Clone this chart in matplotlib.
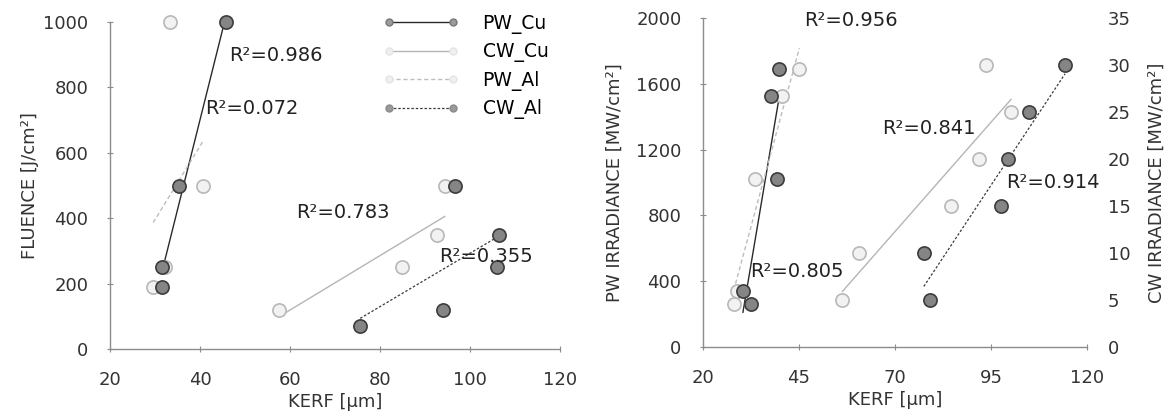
import numpy as np
import matplotlib
matplotlib.use("Agg")
import matplotlib.pyplot as plt
from matplotlib.lines import Line2D

# left panel: fluence vs kerf
pw_cu_kerf = [45.7, 35.4, 31.6, 31.6]
pw_cu_fluence = [1000, 500, 250, 190]
pw_al_kerf = [33.4, 40.6, 32.3, 29.6]
pw_al_fluence = [1000, 500, 250, 190]
cw_cu_kerf = [57.5, 84.8, 92.6, 94.4]
cw_cu_fluence = [120, 250, 350, 500]
cw_al_kerf = [75.6, 94.0, 106.0, 106.5, 96.6]
cw_al_fluence = [70, 120, 250, 350, 500]
r2_left = ["0.986", "0.072", "0.783", "0.355"]

# right panel: irradiance vs kerf (PW on left axis, CW on right axis)
pw_cu_kerf_r = [30.4, 32.4, 39.2, 37.6, 39.7]
pw_cu_irr = [340, 261, 1021, 1526, 1690]
pw_al_kerf_r = [28.0, 28.9, 33.5, 40.7, 45.1]
pw_al_irr = [261, 340, 1021, 1526, 1690]
cw_cu_kerf_r = [56.3, 60.7, 84.5, 91.8, 100.2, 93.8]
cw_cu_irr = [5, 10, 15, 20, 25, 30]
cw_al_kerf_r = [79.0, 77.5, 97.7, 99.5, 104.9, 114.3]
cw_al_irr = [5, 10, 15, 20, 25, 30]
r2_right = ["0.956", "0.805", "0.841", "0.914"]

series_names = ["PW_Cu", "CW_Cu", "PW_Al", "CW_Al"]

DARK = dict(marker="o", ms=9.5, mfc="#858585", mec="#3c3c3c", mew=1.2, ls="none", zorder=4, clip_on=False)
LIGHT = dict(marker="o", ms=9.5, mfc="#f2f2f2", mec="#b8b8b8", mew=1.2, ls="none", zorder=3, clip_on=False)
line_styles = {
    "PW_Cu": dict(color="#2a2a2a", lw=1.0, ls="-"),
    "CW_Cu": dict(color="#b5b5b5", lw=1.0, ls="-"),
    "PW_Al": dict(color="#bdbdbd", lw=1.0, ls=(0, (3, 2))),
    "CW_Al": dict(color="#3a3a3a", lw=0.9, ls=(0, (2, 1.5))),
}

FONT = "DejaVu Sans"
TXT = "#333333"


def trend(ax, x, y, style):
    # excel-like linear trendline from min to max x
    k, b = np.polyfit(x, y, 1)
    xs = np.array([min(x), max(x)])
    ax.plot(xs, k * xs + b, zorder=2, **style)


def style_axes(ax):
    for s in ["top", "right"]:
        ax.spines[s].set_visible(False)
    for s in ["left", "bottom"]:
        ax.spines[s].set_color("#8c8c8c")
        ax.spines[s].set_linewidth(1.0)
    ax.tick_params(direction="inout", length=5, color="#8c8c8c", labelsize=13,
                   labelcolor=TXT)
    ax.tick_params(axis="x", pad=13)
    ax.tick_params(axis="y", pad=13)


plt.rcParams["font.family"] = FONT
fig = plt.figure(figsize=(11.71, 4.18), dpi=100)

# ---------- left panel
ax1 = fig.add_axes([110 / 1171, 69 / 418, 450 / 1171, 327 / 418])
trend(ax1, pw_cu_kerf, pw_cu_fluence, line_styles["PW_Cu"])
trend(ax1, cw_cu_kerf, cw_cu_fluence, line_styles["CW_Cu"])
trend(ax1, pw_al_kerf, pw_al_fluence, line_styles["PW_Al"])
trend(ax1, cw_al_kerf, cw_al_fluence, line_styles["CW_Al"])
ax1.plot(pw_al_kerf, pw_al_fluence, **LIGHT)
ax1.plot(cw_cu_kerf, cw_cu_fluence, **LIGHT)
ax1.plot(pw_cu_kerf, pw_cu_fluence, **DARK)
ax1.plot(cw_al_kerf, cw_al_fluence, **DARK)
ax1.set_xlim(20, 120)
ax1.set_ylim(0, 1000)
ax1.set_xticks(range(20, 121, 20))
ax1.set_yticks(range(0, 1001, 200))
style_axes(ax1)
ax1.set_xlabel("KERF [µm]", fontsize=13, color=TXT, labelpad=3)
ax1.set_ylabel("FLUENCE [J/cm²]", fontsize=13, color=TXT, labelpad=3)

left_pos = [(46.4, 899), (41.2, 737), (61.3, 416), (93.1, 284)]
for (x, y), r in zip(left_pos, r2_left):
    ax1.text(x, y, f"R²={r}", fontsize=14, color="#222222",
             va="center", ha="left", zorder=5)

handles = [
    Line2D([], [], marker="o", ms=5, mfc="#9a9a9a", mec="#777777", **line_styles["PW_Cu"]),
    Line2D([], [], marker="o", ms=5, mfc="#f0f0f0", mec="#e4e4e4", **line_styles["CW_Cu"]),
    Line2D([], [], marker="o", ms=5, mfc="#f0f0f0", mec="#e4e4e4", **line_styles["PW_Al"]),
    Line2D([], [], marker="o", ms=5, mfc="#9a9a9a", mec="#8a8a8a", **line_styles["CW_Al"]),
]
ax1.legend(handles, series_names, loc="upper left", bbox_to_anchor=(0.607, 1.025),
           frameon=False, numpoints=2, handlelength=4.0, handletextpad=1.3,
           labelspacing=0.45, borderpad=0, borderaxespad=0,
           prop={"size": 13.5})

# ---------- right panel
ax2 = fig.add_axes([703 / 1171, 71 / 418, 384 / 1171, 329 / 418])
ax3 = ax2.twinx()
trend(ax2, pw_cu_kerf_r, pw_cu_irr, line_styles["PW_Cu"])
trend(ax2, pw_al_kerf_r, pw_al_irr, line_styles["PW_Al"])
trend(ax3, cw_cu_kerf_r, cw_cu_irr, line_styles["CW_Cu"])
trend(ax3, cw_al_kerf_r, cw_al_irr, line_styles["CW_Al"])
ax2.plot(pw_al_kerf_r, pw_al_irr, **LIGHT)
ax2.plot(pw_cu_kerf_r, pw_cu_irr, **DARK)
ax3.plot(cw_cu_kerf_r, cw_cu_irr, **LIGHT)
ax3.plot(cw_al_kerf_r, cw_al_irr, **DARK)
ax2.set_xlim(20, 120)
ax2.set_ylim(0, 2000)
ax3.set_ylim(0, 35)
ax2.set_xticks(range(20, 121, 25))
ax2.set_yticks(range(0, 2001, 400))
ax3.set_yticks(range(0, 36, 5))
style_axes(ax2)
for s in ["top", "right", "left", "bottom"]:
    ax3.spines[s].set_visible(False)
ax3.tick_params(axis="y", length=0, labelsize=13, labelcolor=TXT, pad=15)
ax2.set_xlabel("KERF [µm]", fontsize=13, color=TXT, labelpad=3)
ax2.set_ylabel("PW IRRADIANCE [MW/cm²]", fontsize=13, color=TXT, labelpad=9)
ax3.set_ylabel("CW IRRADIANCE [MW/cm²]", fontsize=13, color=TXT,
               rotation=90, va="center")
ax3.yaxis.set_label_coords((1157 - 703) / 384, 0.5)

right_pos = [(46.4, 1985), (32.2, 456), (66.6, 1331), (99.0, 997)]
for (x, y), r in zip(right_pos, r2_right):
    ax2.text(x, y, f"R²={r}", fontsize=14, color="#222222",
             va="center", ha="left", zorder=5)

fig.savefig("out.png", dpi=100)
